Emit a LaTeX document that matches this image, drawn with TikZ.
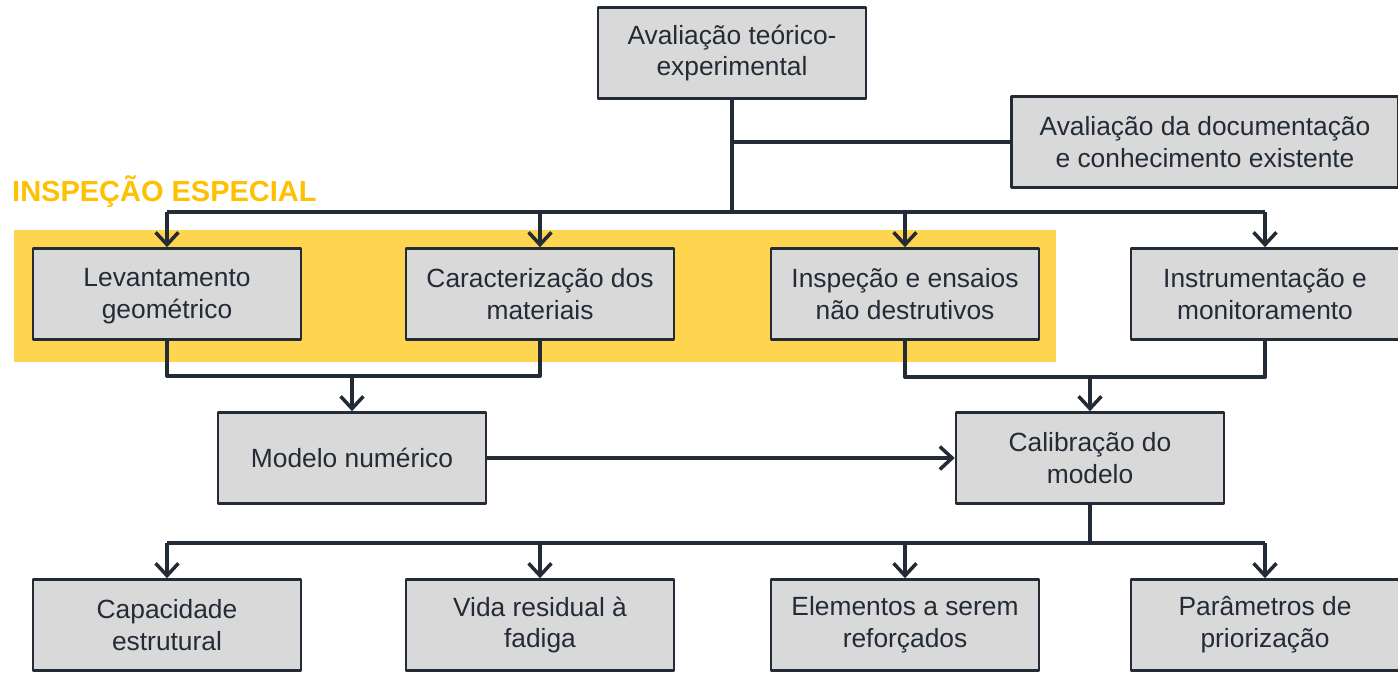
\documentclass[tikz,border=0pt]{standalone}
\usepackage{fontspec}
\setmainfont{Liberation Sans}
\usetikzlibrary{arrows.meta}
\definecolor{linha}{HTML}{232B36}
\definecolor{caixa}{HTML}{D9D9D9}
\definecolor{faixa}{HTML}{FFD44F}
\definecolor{titulo}{HTML}{FFC000}
\begin{document}
\begin{tikzpicture}[x=0.02cm, y=-0.02cm, line join=round, >={Straight Barb[length=7pt,width=13pt,line width=2pt]}]

		\tikzset{box/.style={draw=linha, line width=1.5pt, fill=caixa, text=linha, align=center, minimum width=5.36cm, minimum height=1.82cm, font=\fontsize{15}{18}\selectfont},
		conn/.style={draw=linha, line width=2.2pt},
		arrow/.style={conn, ->}}

		\useasboundingbox (0,0) rectangle (1398,672);
		\fill[faixa] (14,230) rectangle (1056,362);
		\node[anchor=west, text=titulo, font=\fontsize{16.5}{20}\selectfont\bfseries] (tit) at (6,192) {INSPEÇÃO ESPECIAL};

		\node[box] (top) at (732,53) {Avaliação teórico-\\experimental};
		\node[box, minimum width=7.74cm] (doc) at (1205,142) {Avaliação da documentação\\e conhecimento existente};
		\node[box] (lev) at (167,294) {\strut Levantamento\\geométrico};
		\node[box] (car) at (540,294) {Caracterização dos\\materiais};
		\node[box] (ins) at (905,294) {Inspeção e ensaios\\não destrutivos};
		\node[box] (mon) at (1265,294) {Instrumentação e\\monitoramento};
		\node[box] (mod) at (352,458) {Modelo numérico};
		\node[box] (cal) at (1090,458) {Calibração do\\modelo};
		\node[box] (cap) at (167,625) {Capacidade\\estrutural};
		\node[box] (vid) at (540,625) {Vida residual à\\fadiga};
		\node[box] (ele) at (905,625) {Elementos a serem\\reforçados};
		\node[box] (par) at (1265,625) {Parâmetros de\\priorização};

		\coordinate (b1) at (732,212);
		\coordinate (m1) at (352,376);
		\coordinate (m2) at (1090,377);
		\coordinate (b2) at (1090,543);

		\draw[conn] (top.south) -- (b1);
		\draw[conn] (top.south |- doc.west) -- (doc.west);
		\draw[conn] (lev.north |- b1) -- (mon.north |- b1);
		\foreach \n in {lev,car,ins,mon}
		\draw[arrow] (\n.north |- b1) -- (\n.north);

		\draw[conn] (lev.south) |- (car.south |- m1) -- (car.south);
		\draw[arrow] (m1) -- (mod.north);
		\draw[conn] (ins.south) |- (mon.south |- m2) -- (mon.south);
		\draw[arrow] (m2) -- (cal.north);
		\draw[arrow] (mod.east) -- (cal.west);

		\draw[conn] (cal.south) -- (b2);
		\draw[conn] (cap.north |- b2) -- (par.north |- b2);
		\foreach \n in {cap,vid,ele,par}
		\draw[arrow] (\n.north |- b2) -- (\n.north);
		\end{tikzpicture}
\end{document}
